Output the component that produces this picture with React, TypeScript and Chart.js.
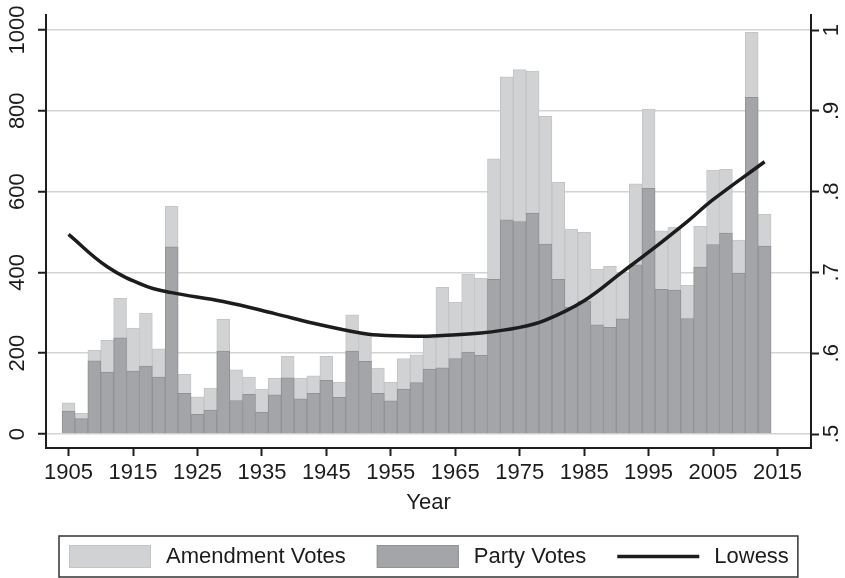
import React, { useEffect, useRef } from "react";
import { Chart, registerables } from "chart.js";

Chart.register(...registerables);

// Congress start years (one bar per two-year term)
const years = [
  1905, 1907, 1909, 1911, 1913, 1915, 1917, 1919, 1921, 1923,
  1925, 1927, 1929, 1931, 1933, 1935, 1937, 1939, 1941, 1943,
  1945, 1947, 1949, 1951, 1953, 1955, 1957, 1959, 1961, 1963,
  1965, 1967, 1969, 1971, 1973, 1975, 1977, 1979, 1981, 1983,
  1985, 1987, 1989, 1991, 1993, 1995, 1997, 1999, 2001, 2003,
  2005, 2007, 2009, 2011, 2013,
];

// Total amendment roll-call votes per Congress
const amendmentVotes = [
  77, 51, 208, 232, 336, 262, 299, 211, 564, 148,
  92, 114, 284, 159, 141, 111, 138, 192, 138, 144,
  192, 128, 295, 246, 163, 128, 187, 196, 237, 363,
  326, 396, 386, 681, 884, 902, 898, 786, 623, 507,
  499, 408, 415, 400, 619, 804, 503, 512, 368, 514,
  653, 655, 480, 994, 544,
];

// Amendment votes that were party votes
const partyVotes = [
  57, 38, 181, 153, 238, 156, 168, 141, 463, 101,
  49, 59, 205, 83, 98, 54, 97, 139, 87, 101,
  133, 91, 205, 180, 101, 82, 111, 127, 161, 164,
  187, 203, 195, 383, 530, 526, 547, 470, 383, 314,
  329, 270, 264, 285, 419, 608, 358, 356, 286, 413,
  469, 497, 398, 833, 465,
];

// Lowess-smoothed share of party votes (right axis)
const lowessYears = [
  1905, 1911, 1917, 1921, 1929, 1937, 1943, 1949, 1953, 1959,
  1963, 1969, 1975, 1979, 1985, 1991, 1995, 2001, 2005, 2013,
];
const lowessShare = [
  0.747, 0.707, 0.683, 0.675, 0.664, 0.649, 0.637, 0.627, 0.6225, 0.621,
  0.622, 0.625, 0.632, 0.641, 0.665, 0.701, 0.725, 0.763, 0.79, 0.837,
];

const yearTicks = [1905, 1915, 1925, 1935, 1945, 1955, 1965, 1975, 1985, 1995, 2005, 2015];
const voteTicks = [0, 200, 400, 600, 800, 1000];
const voteTickLabels = ["0", "200", "400", "600", "800", "1000"];
const shareTicks = [0.5, 0.6, 0.7, 0.8, 0.9, 1];
const shareTickLabels = [".5", ".6", ".7", ".8", ".9", "1"];

const FONT = '"Liberation Sans", Arial, Helvetica, sans-serif';
const TEXT = "#1c1c1c";
const AXIS = "#1e1e1e";
const LIGHT = "#d1d2d4";
const LIGHT_EDGE = "#c3c4c6";
const DARK = "#a4a5a9";
const DARK_EDGE = "#919296";
const LINE = "#1c1c1c";

// Vertical tick labels on both y axes, the x-axis title and the boxed legend
const decorations = {
  id: "decorations",
  afterDraw(chart: any) {
    const ctx: CanvasRenderingContext2D = chart.ctx;
    const area = chart.chartArea;
    ctx.save();
    ctx.fillStyle = TEXT;
    ctx.font = `22px ${FONT}`;
    ctx.textAlign = "center";
    ctx.textBaseline = "middle";

    const yl = chart.scales.y;
    voteTicks.forEach((v, i) => {
      const py = yl.getPixelForValue(v);
      ctx.save();
      ctx.translate(18, py);
      ctx.rotate(-Math.PI / 2);
      ctx.fillText(voteTickLabels[i], 0, 0);
      ctx.restore();
    });

    const yr = chart.scales.y1;
    shareTicks.forEach((v, i) => {
      const py = yr.getPixelForValue(v);
      ctx.save();
      ctx.translate(area.right + 21, py);
      ctx.rotate(-Math.PI / 2);
      ctx.fillText(shareTickLabels[i], 0, 0);
      ctx.restore();
    });

    // x-axis title
    const cx = (area.left + area.right) / 2;
    ctx.fillText("Year", cx, 503);

    // legend
    const ds = chart.data.datasets;
    const swW = 82;
    const swH = 23;
    const gapText = 15;
    const gapItem = 31;
    const padL = 10;
    const padR = 9;
    const widths = ds.map((d: any) => ctx.measureText(d.label).width);
    let total = padL + padR;
    widths.forEach((w: number, i: number) => {
      total += swW + gapText + w + (i < ds.length - 1 ? gapItem : 0);
    });
    const boxTop = 536;
    const boxH = 41;
    const boxLeft = Math.round(cx - total / 2);
    ctx.strokeStyle = "#333333";
    ctx.lineWidth = 1.5;
    ctx.strokeRect(boxLeft, boxTop, total, boxH);

    const midY = boxTop + boxH / 2;
    let x = boxLeft + padL;
    ds.forEach((d: any, i: number) => {
      if (d.type === "line") {
        ctx.strokeStyle = d.borderColor;
        ctx.lineWidth = d.borderWidth;
        ctx.beginPath();
        ctx.moveTo(x, midY);
        ctx.lineTo(x + swW, midY);
        ctx.stroke();
      } else {
        ctx.fillStyle = d.backgroundColor;
        ctx.fillRect(x, midY - swH / 2, swW, swH);
        ctx.strokeStyle = d.borderColor;
        ctx.lineWidth = 1;
        ctx.strokeRect(x + 0.5, midY - swH / 2 + 0.5, swW - 1, swH - 1);
      }
      x += swW + gapText;
      ctx.fillStyle = TEXT;
      ctx.textAlign = "left";
      ctx.fillText(d.label, x, midY);
      x += widths[i] + gapItem;
    });
    ctx.restore();
  },
};

export default function App() {
  const canvasRef = useRef<HTMLCanvasElement | null>(null);

  useEffect(() => {
    document.body.style.margin = "0";
    const canvas = canvasRef.current;
    if (!canvas) return;

    const chart = new Chart(canvas, {
      type: "bar",
      data: {
        datasets: [
          {
            type: "bar",
            label: "Amendment Votes",
            data: years.map((yr, i) => ({ x: yr, y: amendmentVotes[i] })),
            backgroundColor: LIGHT,
            borderColor: LIGHT_EDGE,
            borderWidth: 1,
            grouped: false,
            barPercentage: 1,
            categoryPercentage: 1,
            yAxisID: "y",
            order: 3,
          },
          {
            type: "bar",
            label: "Party Votes",
            data: years.map((yr, i) => ({ x: yr, y: partyVotes[i] })),
            backgroundColor: DARK,
            borderColor: DARK_EDGE,
            borderWidth: 1,
            grouped: false,
            barPercentage: 1,
            categoryPercentage: 1,
            yAxisID: "y",
            order: 2,
          },
          {
            type: "line",
            label: "Lowess",
            data: lowessYears.map((yr, i) => ({ x: yr, y: lowessShare[i] })),
            borderColor: LINE,
            backgroundColor: LINE,
            borderWidth: 3.5,
            pointRadius: 0,
            tension: 0.4,
            fill: false,
            yAxisID: "y1",
            order: 1,
          },
        ] as any,
      },
      options: {
        responsive: false,
        devicePixelRatio: 1,
        animation: false,
        layout: { padding: { top: 15, left: 0, right: 0, bottom: 0 } },
        plugins: {
          legend: { display: false },
          tooltip: { enabled: false },
        },
        scales: {
          x: {
            type: "linear",
            position: "bottom",
            min: 1901.5,
            max: 2020.2,
            offset: false,
            afterBuildTicks: (s: any) => {
              s.ticks = yearTicks.map((v) => ({ value: v }));
            },
            afterFit: (s: any) => {
              s.height = 130;
            },
            ticks: {
              color: TEXT,
              font: { family: FONT, size: 22 },
              padding: 4,
              maxRotation: 0,
              autoSkip: false,
              callback: (v: any) => String(v),
            },
            grid: {
              offset: false,
              drawOnChartArea: false,
              drawTicks: true,
              tickLength: 8,
              tickColor: AXIS,
              tickWidth: 2,
            },
            border: { display: true, color: AXIS, width: 2 },
          },
          y: {
            type: "linear",
            position: "left",
            min: -34.6,
            max: 1037,
            afterBuildTicks: (s: any) => {
              s.ticks = voteTicks.map((v) => ({ value: v }));
            },
            afterFit: (s: any) => {
              s.width = 46;
            },
            ticks: { display: false },
            grid: {
              color: "#d3d3d3",
              lineWidth: 1.5,
              drawTicks: true,
              tickLength: 8,
              tickColor: AXIS,
              tickWidth: 2,
            },
            border: { display: true, color: AXIS, width: 2 },
          },
          y1: {
            type: "linear",
            position: "right",
            min: 0.4827,
            max: 1.0186,
            afterBuildTicks: (s: any) => {
              s.ticks = shareTicks.map((v) => ({ value: v }));
            },
            afterFit: (s: any) => {
              s.width = 34;
            },
            ticks: { display: false },
            grid: {
              drawOnChartArea: false,
              drawTicks: true,
              tickLength: 8,
              tickColor: AXIS,
              tickWidth: 2,
            },
            border: { display: true, color: AXIS, width: 2 },
          },
        },
      },
      plugins: [decorations],
    });

    return () => chart.destroy();
  }, []);

  return (
    <div style={{ width: 845, height: 578, background: "#ffffff" }}>
      <canvas ref={canvasRef} width={845} height={578} style={{ display: "block" }} />
    </div>
  );
}
